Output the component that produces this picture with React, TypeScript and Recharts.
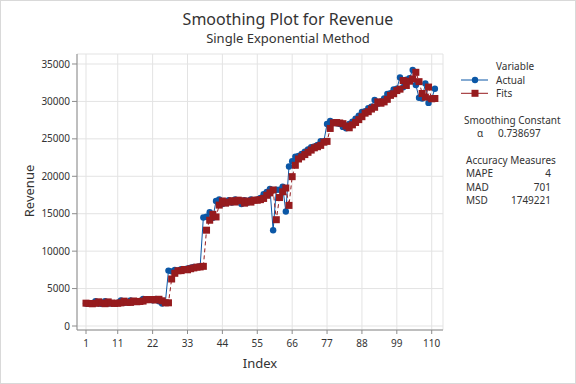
import React from 'react';
import { ComposedChart, Line, XAxis, YAxis, CartesianGrid } from 'recharts';

const INDEX: number[] = Array.from({ length: 111 }, (_, i) => i + 1);

const ACTUAL: number[] = [
  3000, 2950, 3050, 3300, 3000, 2950, 3300, 3000, 3000, 3050,
  3100, 3400, 3100, 3150, 3400, 3200, 3300, 3350, 3600, 3500,
  3550, 3450, 3600, 3300, 3000, 3100, 7400, 7300, 7500, 7400,
  7600, 7500, 7700, 7800, 7900, 7900, 8000, 14500, 14600, 15200,
  14450, 16700, 16900, 16300, 16600, 16800, 16500, 16900, 16700, 16300,
  16800, 16500, 16900, 16800, 16900, 17100, 17600, 17900, 18300, 12800,
  18200, 18200, 18600, 15300, 21300, 22000, 22600, 22700, 23000, 23300,
  23600, 23900, 24000, 24200, 24700, 24700, 27000, 27400, 27200, 27100,
  27000, 26600, 26400, 27000, 27300, 27700, 28100, 28600, 28700, 29100,
  29300, 30200, 29700, 30000, 30400, 31000, 31100, 31600, 31700, 33200,
  31900, 32900, 33100, 34200, 32200, 30500, 30400, 32400, 29800, 30400, 31700,
];

const FITS: number[] = [
  3050, 3010, 2970, 3030, 3230, 3060, 2980, 3220, 3060, 3020,
  3040, 3090, 3320, 3160, 3150, 3340, 3240, 3280, 3330, 3530,
  3510, 3540, 3470, 3570, 3370, 3100, 3100, 6280, 7040, 7380,
  7400, 7550, 7510, 7650, 7760, 7860, 7890, 7970, 12800, 14130,
  14920, 14570, 16150, 16700, 16410, 16550, 16740, 16560, 16810, 16730,
  16410, 16700, 16550, 16810, 16800, 16880, 17040, 17460, 17780, 18170,
  14200, 17160, 17930, 18430, 16110, 19950, 21470, 22310, 22600, 22900,
  23200, 23500, 23800, 23950, 24130, 24550, 24660, 26390, 27140, 27180,
  27120, 27030, 26710, 26480, 26870, 27190, 27570, 27960, 28430, 28630,
  28980, 29220, 29940, 29760, 29940, 30280, 30810, 31030, 31450, 31640,
  32790, 32130, 32700, 33000, 33890, 32640, 31060, 30570, 31920, 30350, 30390,
];

const X_TICKS: number[] = [1, 11, 22, 33, 44, 55, 66, 77, 88, 99, 110];
const Y_TICKS: number[] = [0, 5000, 10000, 15000, 20000, 25000, 30000, 35000];

const STATS: [string, string][] = [
  ['MAPE', '4'],
  ['MAD', '701'],
  ['MSD', '1749221'],
];

const BLUE = '#0b57a6';
const RED = '#961b1e';
const FRAME = '#8c8c8c';
const TXT = '#333333';
const FONT = '"Noto Sans", sans-serif';

const X_DOMAIN: [number, number] = [-1.84, 113.56];
const Y_DOMAIN: [number, number] = [-534, 36335];

const data = INDEX.map((idx, i) => ({ idx, actual: ACTUAL[i], fits: FITS[i] }));

const BlueDot = (p: any) => {
  if (p.cx == null || p.cy == null) return <g key={`b${p.index}`} />;
  return <circle key={`b${p.index}`} cx={p.cx} cy={p.cy} r={3.2} fill={BLUE} stroke="none" />;
};

const RedSquare = (p: any) => {
  if (p.cx == null || p.cy == null) return <g key={`r${p.index}`} />;
  return <rect key={`r${p.index}`} x={p.cx - 3.5} y={p.cy - 3.5} width={7} height={7} fill={RED} stroke="none" />;
};

export default function App() {
  return (
    <div
      style={{
        position: 'absolute',
        left: 0,
        top: 0,
        width: 576,
        height: 384,
        background: '#ffffff',
        fontFamily: FONT,
      }}
    >
      <ComposedChart
        width={576}
        height={384}
        data={data}
        margin={{ top: 54, right: 133, bottom: 0, left: 0 }}
        style={{ fontFamily: FONT }}
      >
        <CartesianGrid stroke="#e3e3e3" strokeWidth={1} />
        <XAxis
          dataKey="idx"
          type="number"
          domain={X_DOMAIN}
          allowDataOverflow
          ticks={X_TICKS}
          interval={0}
          height={54}
          tickSize={4}
          tickMargin={6}
          axisLine={{ stroke: FRAME }}
          tickLine={{ stroke: FRAME }}
          tick={{ fontSize: 10, fill: TXT, fontFamily: FONT }}
        />
        <XAxis
          xAxisId="top"
          orientation="top"
          dataKey="idx"
          type="number"
          domain={X_DOMAIN}
          allowDataOverflow
          height={0}
          tick={false}
          tickLine={false}
          axisLine={{ stroke: FRAME }}
        />
        <YAxis
          type="number"
          domain={Y_DOMAIN}
          allowDataOverflow
          ticks={Y_TICKS}
          interval={0}
          width={77}
          tickSize={5}
          tickMargin={2}
          axisLine={{ stroke: FRAME }}
          tickLine={{ stroke: FRAME }}
          tick={{ fontSize: 10, fill: TXT, fontFamily: FONT }}
        />
        <YAxis
          yAxisId="right"
          orientation="right"
          type="number"
          domain={Y_DOMAIN}
          allowDataOverflow
          width={0}
          tick={false}
          tickLine={false}
          axisLine={{ stroke: FRAME }}
        />
        <Line
          dataKey="actual"
          type="linear"
          stroke={BLUE}
          strokeWidth={1}
          dot={BlueDot}
          activeDot={false}
          isAnimationActive={false}
        />
        <Line
          dataKey="fits"
          type="linear"
          stroke={RED}
          strokeWidth={1}
          strokeDasharray="4 3"
          dot={RedSquare}
          activeDot={false}
          isAnimationActive={false}
        />
      </ComposedChart>
      <svg
        width={576}
        height={384}
        style={{ position: 'absolute', left: 0, top: 0, pointerEvents: 'none', fontFamily: FONT }}
      >
        <rect x={0.5} y={0.5} width={575} height={383} fill="none" stroke="#d9d9d9" />
        <text x={288} y={25} textAnchor="middle" fontSize={16} fill={TXT}>
          Smoothing Plot for Revenue
        </text>
        <text x={288} y={42.5} textAnchor="middle" fontSize={13} fill={TXT}>
          Single Exponential Method
        </text>
        <text x={260} y={368} textAnchor="middle" fontSize={13} fill={TXT}>
          Index
        </text>
        <text
          x={0}
          y={0}
          transform="translate(33.5,191) rotate(-90)"
          textAnchor="middle"
          fontSize={13}
          fill={TXT}
        >
          Revenue
        </text>

        <text x={496} y={69.5} fontSize={10} fill={TXT}>Variable</text>
        <line x1={461} x2={488} y1={80} y2={80} stroke={BLUE} strokeWidth={1} />
        <circle cx={475} cy={80} r={3.2} fill={BLUE} />
        <text x={496} y={83.5} fontSize={10} fill={TXT}>Actual</text>
        <line x1={461} x2={488} y1={93.3} y2={93.3} stroke={RED} strokeWidth={1} />
        <rect x={471.5} y={89.8} width={7} height={7} fill={RED} />
        <text x={496} y={97} fontSize={10} fill={TXT}>Fits</text>

        <text x={464} y={123.5} fontSize={10} fill={TXT}>Smoothing Constant</text>
        <text x={477} y={136.5} fontSize={10} fill={TXT}>α</text>
        <text x={498} y={136.5} fontSize={10} fill={TXT}>0.738697</text>

        <text x={466} y={163.5} fontSize={10} fill={TXT}>Accuracy Measures</text>
        {STATS.map(([k, v], i) => (
          <g key={k}>
            <text x={466} y={177 + i * 13.7} fontSize={10} fill={TXT}>{k}</text>
            <text x={551} y={177 + i * 13.7} fontSize={10} fill={TXT} textAnchor="end">{v}</text>
          </g>
        ))}
      </svg>
    </div>
  );
}
